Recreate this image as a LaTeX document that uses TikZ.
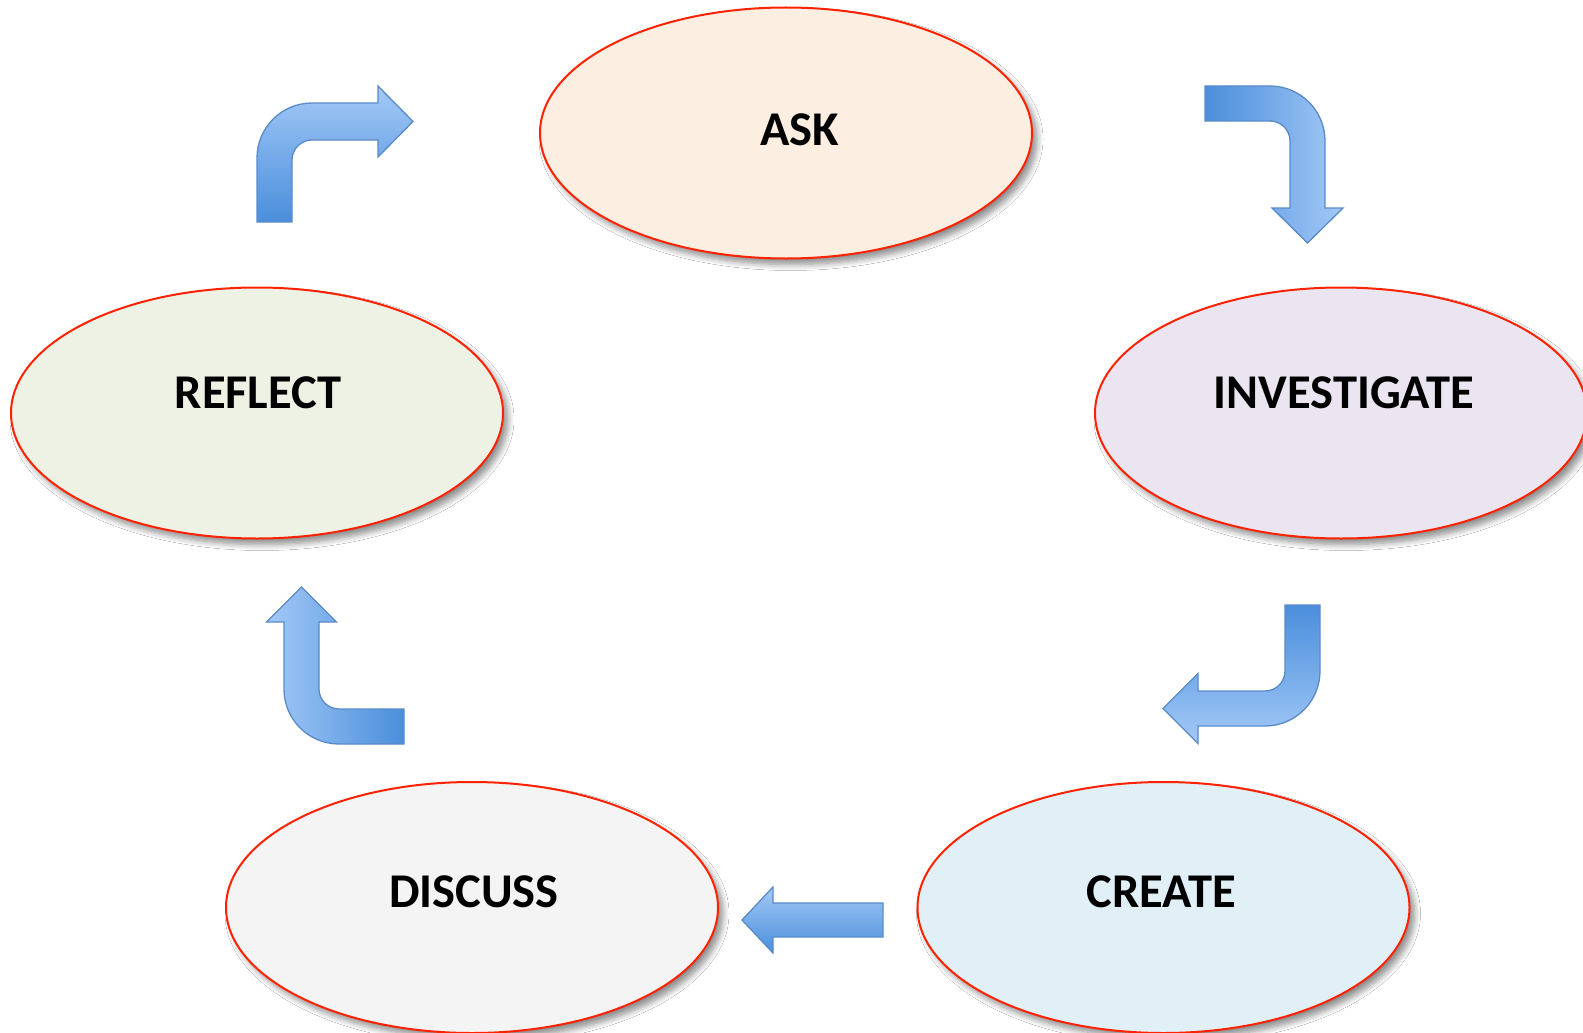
\documentclass[tikz,border=0pt]{standalone}
\usepackage{fontspec}
\setmainfont{Carlito}
\usetikzlibrary{shapes.geometric,shadows.blur}
\definecolor{askfill}{HTML}{FDEEE2}
\definecolor{invfill}{HTML}{EAE5F0}
\definecolor{reffill}{HTML}{EDF2E5}
\definecolor{disfill}{HTML}{F4F4F4}
\definecolor{crefill}{HTML}{E1EFF7}
\definecolor{ellborder}{HTML}{FF2200}
\definecolor{arrdark}{HTML}{4A8EDB}
\definecolor{arrlight}{HTML}{A3C9F7}
\definecolor{arredge}{HTML}{5A8BC9}
\begin{document}
\begin{tikzpicture}[x=1pt,y=-1pt,
  stage/.style={ellipse, draw=ellborder, line width=2pt, minimum width=492pt, minimum height=251pt, inner sep=0pt,
     blur shadow={shadow xshift=5pt, shadow yshift=-6pt, shadow blur radius=6pt, shadow blur steps=8, shadow opacity=45}},
  stagetext/.style={font=\bfseries\fontsize{48.5}{58}\selectfont, inner sep=0pt, text=black},
  blockarrow/.style={draw=arredge, line width=1.3pt, line join=miter}
]
\useasboundingbox (0,0) rectangle (1583,1033);
\fill[white] (0,0) rectangle (1583,1033);

% stages
\node[stage, fill=askfill] (ask) at (786,133) {};
\node[stage, fill=invfill] (inv) at (1341,413) {};
\node[stage, fill=reffill] (ref) at (257,413) {};
\node[stage, fill=disfill] (dis) at (472,907.5) {};
\node[stage, fill=crefill] (cre) at (1163.5,907.5) {};

\node[stagetext] (askt) at (800,130) {ASK};
\node[stagetext] (invt) at (1344,393) {INVESTIGATE};
\node[stagetext] (reft) at (258,393) {REFLECT};
\node[stagetext] (dist) at (474,892) {DISCUSS};
\node[stagetext] (cret) at (1161,892) {CREATE};

% arrow 1: reflect -> ask
\shade[top color=arrlight, bottom color=arrdark]
  (257,222) -- (257,158) .. controls (257,127.6) and (281.6,103) .. (312,103) -- (378,103) -- (378,86)
  -- (413,121.5) -- (378,157) -- (378,140) -- (312,140) .. controls (300.95,140) and (292,148.95) .. (292,160)
  -- (292,222) -- cycle;
\draw[blockarrow]
  (257,222) -- (257,158) .. controls (257,127.6) and (281.6,103) .. (312,103) -- (378,103) -- (378,86)
  -- (413,121.5) -- (378,157) -- (378,140) -- (312,140) .. controls (300.95,140) and (292,148.95) .. (292,160)
  -- (292,222) -- cycle;

% arrow 2: ask -> investigate
\shade[left color=arrdark, right color=arrlight]
  (1205,86) -- (1270,86) .. controls (1300.4,86) and (1325,110.6) .. (1325,141) -- (1325,208) -- (1343,208)
  -- (1307.5,243) -- (1272,208) -- (1290,208) -- (1290,141) .. controls (1290,129.95) and (1281.05,121) .. (1270,121)
  -- (1205,121) -- cycle;
\draw[blockarrow]
  (1205,86) -- (1270,86) .. controls (1300.4,86) and (1325,110.6) .. (1325,141) -- (1325,208) -- (1343,208)
  -- (1307.5,243) -- (1272,208) -- (1290,208) -- (1290,141) .. controls (1290,129.95) and (1281.05,121) .. (1270,121)
  -- (1205,121) -- cycle;

% arrow 3: investigate -> create
\shade[top color=arrdark, bottom color=arrlight]
  (1285,605) -- (1320,605) -- (1320,671) .. controls (1320,701.4) and (1295.4,726) .. (1265,726) -- (1198,726)
  -- (1198,743.5) -- (1163,708.5) -- (1198,673.5) -- (1198,691) -- (1265,691)
  .. controls (1276.05,691) and (1285,682.05) .. (1285,671) -- cycle;
\draw[blockarrow]
  (1285,605) -- (1320,605) -- (1320,671) .. controls (1320,701.4) and (1295.4,726) .. (1265,726) -- (1198,726)
  -- (1198,743.5) -- (1163,708.5) -- (1198,673.5) -- (1198,691) -- (1265,691)
  .. controls (1276.05,691) and (1285,682.05) .. (1285,671) -- cycle;

% arrow 4: discuss -> reflect
\shade[left color=arrlight, right color=arrdark]
  (284,622) -- (284,689) .. controls (284,719.4) and (308.6,744) .. (339,744) -- (404,744) -- (404,709)
  -- (339,709) .. controls (327.95,709) and (319,700.05) .. (319,689) -- (319,622) -- (336.5,622)
  -- (301.5,587) -- (266.5,622) -- cycle;
\draw[blockarrow]
  (284,622) -- (284,689) .. controls (284,719.4) and (308.6,744) .. (339,744) -- (404,744) -- (404,709)
  -- (339,709) .. controls (327.95,709) and (319,700.05) .. (319,689) -- (319,622) -- (336.5,622)
  -- (301.5,587) -- (266.5,622) -- cycle;

% arrow 5: create -> discuss
\shade[top color=arrlight, bottom color=arrdark]
  (883,903) -- (883,937) -- (773,937) -- (773,953) -- (742,920) -- (773,887) -- (773,903) -- cycle;
\draw[blockarrow]
  (883,903) -- (883,937) -- (773,937) -- (773,953) -- (742,920) -- (773,887) -- (773,903) -- cycle;
\end{tikzpicture}
\end{document}
